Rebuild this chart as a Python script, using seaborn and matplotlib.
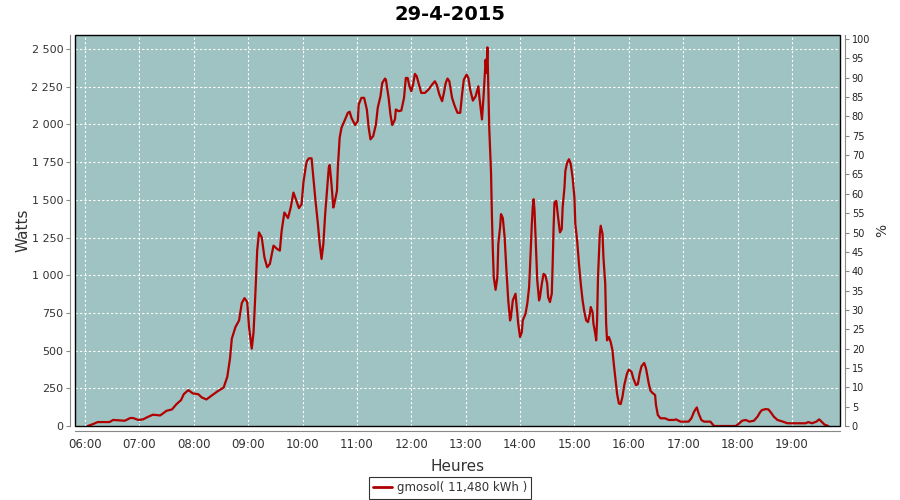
import matplotlib
matplotlib.use("Agg")
import matplotlib.pyplot as plt
import matplotlib.dates as mdates
from matplotlib.patches import Rectangle
from matplotlib.lines import Line2D
import seaborn as sns
import pandas as pd
import numpy as np

# Données (heure, puissance en W)
heures = [
    "06:03", "06:09", "06:14", "06:27", "06:31", "06:44", "06:50", "06:53", "06:59", "07:04",
    "07:10", "07:15", "07:23", "07:30", "07:36", "07:41", "07:46", "07:49", "07:54", "07:59",
    "08:05", "08:09", "08:14", "08:20", "08:26", "08:33", "08:37", "08:40", "08:42", "08:46",
    "08:50", "08:53", "08:56", "08:59", "09:01", "09:04", "09:06", "09:08", "09:10", "09:12",
    "09:15", "09:18", "09:21", "09:24", "09:28", "09:32", "09:35", "09:37", "09:40", "09:44",
    "09:47", "09:50", "09:52", "09:56", "09:59", "10:01", "10:04", "10:05", "10:07", "10:10",
    "10:12", "10:14", "10:17", "10:19", "10:21", "10:23", "10:25", "10:27", "10:29", "10:30",
    "10:32", "10:34", "10:35", "10:38", "10:39", "10:41", "10:43", "10:47", "10:50", "10:52",
    "10:54", "10:58", "11:01", "11:02", "11:05", "11:08", "11:11", "11:13", "11:15", "11:18",
    "11:21", "11:23", "11:26", "11:28", "11:31", "11:32", "11:35", "11:37", "11:39", "11:42",
    "11:43", "11:46", "11:49", "11:52", "11:54", "11:56", "11:58", "12:00", "12:02", "12:04",
    "12:06", "12:09", "12:11", "12:15", "12:19", "12:23", "12:26", "12:28", "12:31", "12:34",
    "12:36", "12:38", "12:40", "12:42", "12:45", "12:48", "12:51", "12:54", "12:56", "12:58",
    "13:01", "13:03", "13:05", "13:08", "13:11", "13:14", "13:15", "13:17", "13:18", "13:20",
    "13:22", "13:23", "13:24", "13:25", "13:26", "13:28", "13:29", "13:30", "13:31", "13:33",
    "13:35", "13:36", "13:38", "13:39", "13:41", "13:43", "13:45", "13:47", "13:49", "13:50",
    "13:52", "13:55", "13:56", "13:58", "14:00", "14:02", "14:03", "14:06", "14:08", "14:10",
    "14:11", "14:13", "14:14", "14:15", "14:16", "14:18", "14:19", "14:21", "14:22", "14:24",
    "14:26", "14:28", "14:30", "14:31", "14:33", "14:35", "14:36", "14:37", "14:38", "14:40",
    "14:42", "14:44", "14:46", "14:47", "14:49", "14:50", "14:52", "14:54", "14:56", "14:58",
    "15:00", "15:01", "15:03", "15:05", "15:07", "15:09", "15:11", "15:13", "15:15", "15:17",
    "15:18", "15:20", "15:21", "15:23", "15:24", "15:25", "15:26", "15:28", "15:29", "15:31",
    "15:32", "15:34", "15:35", "15:36", "15:38", "15:40", "15:42", "15:43", "15:45", "15:47",
    "15:49", "15:51", "15:53", "15:55", "15:58", "16:00", "16:03", "16:05", "16:08", "16:10",
    "16:12", "16:14", "16:17", "16:19", "16:22", "16:24", "16:26", "16:29", "16:30", "16:32",
    "16:35", "16:40", "16:44", "16:50", "16:52", "16:57", "17:06", "17:09", "17:12", "17:15",
    "17:17", "17:20", "17:23", "17:30", "17:34", "17:58", "18:02", "18:05", "18:09", "18:13",
    "18:18", "18:22", "18:25", "18:27", "18:31", "18:34", "18:37", "18:40", "18:44", "18:50",
    "18:55", "19:15", "19:18", "19:22", "19:27", "19:30", "19:33", "19:36", "19:40",
]
watts = [
    0, 13, 26, 26, 40, 35, 53, 53, 40, 44,
    62, 75, 70, 101, 110, 145, 172, 211, 238, 216,
    211, 189, 176, 203, 229, 255, 326, 447, 579, 656,
    700, 815, 848, 822, 656, 513, 623, 877, 1163, 1284,
    1251, 1119, 1053, 1075, 1196, 1174, 1163, 1295, 1416, 1379,
    1449, 1548, 1515, 1445, 1471, 1614, 1736, 1758, 1775, 1775,
    1647, 1515, 1339, 1207, 1108, 1207, 1405, 1559, 1714, 1731,
    1603, 1449, 1471, 1559, 1714, 1912, 1978, 2033, 2077, 2084,
    2044, 1996, 2022, 2132, 2176, 2176, 2099, 1978, 1901, 1923,
    2000, 2110, 2187, 2275, 2304, 2297, 2176, 2066, 1996, 2033,
    2099, 2088, 2092, 2176, 2308, 2308, 2253, 2220, 2264, 2335,
    2319, 2253, 2209, 2209, 2231, 2264, 2286, 2264, 2198, 2154,
    2209, 2275, 2304, 2286, 2176, 2121, 2077, 2077, 2198, 2297,
    2330, 2308, 2231, 2158, 2187, 2253, 2187, 2088, 2033, 2209,
    2429, 2341, 2511, 2242, 1978, 1680, 1383, 1163, 987, 903,
    987, 1207, 1317, 1405, 1379, 1251, 1031, 833, 700, 722,
    833, 877, 811, 678, 590, 623, 700, 744, 811, 921,
    1053, 1339, 1449, 1504, 1427, 1119, 965, 833, 855, 943,
    1009, 998, 943, 855, 822, 877, 1075, 1317, 1482, 1493,
    1383, 1284, 1306, 1449, 1581, 1692, 1747, 1769, 1736, 1647,
    1515, 1339, 1229, 1075, 943, 833, 755, 700, 689, 744,
    789, 755, 678, 612, 568, 700, 987, 1273, 1328, 1273,
    1119, 943, 678, 568, 590, 557, 502, 436, 326, 216,
    150, 145, 194, 271, 348, 374, 359, 315, 271, 278,
    348, 396, 418, 381, 282, 233, 220, 205, 139, 73,
    51, 51, 40, 40, 44, 29, 29, 51, 95, 123,
    84, 40, 29, 29, 0, 0, 18, 35, 40, 29,
    35, 62, 93, 106, 112, 110, 88, 62, 40, 29,
    18, 18, 26, 18, 29, 44, 26, 9, 0,
]
titre = "29-4-2015"
serie = "gmosol( 11,480 kWh )"
graduations_w = [0, 250, 500, 750, 1000, 1250, 1500, 1750, 2000, 2250, 2500]
graduations_pct = list(range(0, 101, 5))
puissance_100pct = 2566  # W correspondant à 100 %

df = pd.DataFrame({"heure": pd.to_datetime("2015-04-29 " + pd.Series(heures)),
                   "watts": watts})

sns.set_style("white")
plt.rcParams["font.family"] = ["DejaVu Sans"]

fig = plt.figure(figsize=(9, 5), dpi=100)
ax = fig.add_axes([75 / 900, 1 - 426 / 500, 765 / 900, 391 / 500])
ax.set_facecolor("#9ec3c2")

couleur = "#b00000"
sns.lineplot(data=df, x="heure", y="watts", color=couleur, lw=1.6,
             estimator=None, ax=ax, legend=False, zorder=3)

# axes
jour = pd.Timestamp("2015-04-29")
ax.set_xlim(jour + pd.Timedelta(hours=5, minutes=49), jour + pd.Timedelta(hours=19, minutes=53))
ymax = 2593
ax.set_ylim(0, ymax)
ax.set_yticks(graduations_w)
ax.set_yticklabels([f"{v:,}".replace(",", " ") for v in graduations_w])
ax.xaxis.set_major_locator(mdates.HourLocator(byhour=range(6, 20)))
ax.xaxis.set_major_formatter(mdates.DateFormatter("%H:%M"))

ax.grid(True, color="white", linestyle=(0, (2, 2)), lw=0.8)
ax.set_axisbelow(True)

gris = "#888888"
for s in ["top", "right"]:
    ax.spines[s].set_visible(False)
for s in ["left", "bottom"]:
    ax.spines[s].set_position(("outward", 3.5))
    ax.spines[s].set_color(gris)
ax.tick_params(axis="both", direction="out", length=3, width=0.8, color=gris,
               labelsize=8, labelcolor="#333333", pad=2)
ax.tick_params(axis="x", labelsize=8.5)

ax.set_xlabel("Heures", fontsize=11, color="#333333", labelpad=6)
ax.set_ylabel("Watts", fontsize=11, color="#333333", labelpad=1)

# axe de droite en %
ax2 = ax.twinx()
ax2.set_ylim(0, ymax / puissance_100pct * 100)
ax2.set_yticks(graduations_pct)
ax2.set_yticklabels([str(v) for v in graduations_pct])
for s in ["top", "left", "bottom"]:
    ax2.spines[s].set_visible(False)
ax2.spines["right"].set_position(("outward", 3.5))
ax2.spines["right"].set_color(gris)
ax2.tick_params(axis="y", direction="out", length=3, width=0.8, color=gris,
                labelsize=7, labelcolor="#222222", pad=2)
ax2.set_ylabel("%", fontsize=10, color="#333333", labelpad=4)
ax2.grid(False)

# cadre de la zone de tracé
ax.add_patch(Rectangle((0, 0), 1, 1, transform=ax.transAxes, fill=False,
                       edgecolor="black", lw=1, zorder=5, clip_on=False))

fig.suptitle(titre, fontsize=14, fontweight="bold", color="black", y=0.99)

poignee = Line2D([], [], color=couleur, lw=2)
leg = fig.legend([poignee], [serie], loc="center", bbox_to_anchor=(0.5, 1 - 488 / 500),
                 frameon=True, fancybox=False, fontsize=8.5, handlelength=1.6,
                 handletextpad=0.4, borderpad=0.35, edgecolor="black")
leg.get_frame().set_linewidth(0.8)
for t in leg.get_texts():
    t.set_color("#333333")

fig.savefig("out.png", dpi=100, facecolor="white")
